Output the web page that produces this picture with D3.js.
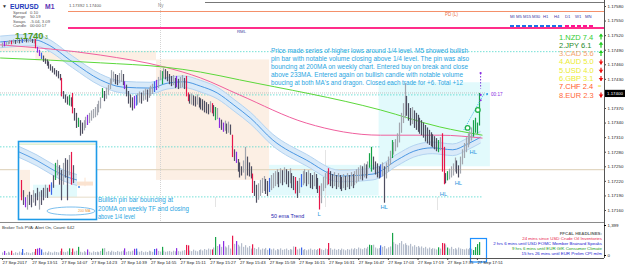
<!DOCTYPE html>
<html>
<head>
<meta charset="utf-8">
<script src="https://d3js.org/d3.v7.min.js"></script>
<style>
  body { margin:0; background:#fff; }
  svg { display:block; }
  text { font-family: "Liberation Sans", Arial, sans-serif; }
</style>
</head>
<body>
<script>
// ---- data (prices in pipettes above 1.17000) ----
const barHi = [505,508,506,508,510,509,511,510,512,511, 513,512,514,512,513,514,512,513,512,496,
  490,484,478,472,470,466,460,456,452,448, 446,440,432,405,398,394,397,392,401,370,
  360,350,345,340,345,352,356,360,365,368, 372,378,385,392,411,405,412,418,430,448,
  445,440,438,442,448,440,425,418,405,398, 392,395,397,400,404,402,406,410,408,412,
  416,420,425,428,434,448,446,452,450,446, 440,436,438,432,436,430,434,438,432,436,
  402,398,400,396,394,398,392,390,388,385, 382,378,384,380,376,372,370,350,346,340,
  344,338,342,336,315,285,280,265,258,250, 262,290,270,258,250,235,220,212,215,222,
  226,230,224,220,226,232,236,240,244,238, 246,242,248,244,240,246,236,230,228,220,
  226,234,240,244,238,242,236,232,238,234, 226,210,215,228,236,240,246,240,234,238,
  232,236,232,228,234,230,236,232,238,234, 240,244,248,252,250,256,254,260,277,290,
  270,260,256,250,254,258,250,258,270,282, 304,300,306,318,340,360,380,421,395,380,
  370,372,365,360,356,350,345,340,335,330, 325,320,316,312,308,304,310,318,290,236,
  240,245,250,256,268,262,252,270,285,298, 310,318,322,330,345,350,340,401];
const barLo = [496,498,500,502,503,502,504,503,505,504, 506,505,507,506,506,507,505,504,494,485,
  478,472,466,462,458,452,448,444,440,436, 432,428,395,390,382,378,376,374,360,345,
  330,332,314,318,325,330,336,340,345,350, 352,356,362,370,392,385,390,398,410,420,
  425,420,418,422,425,418,410,395,380,372, 366,370,376,378,382,380,386,388,384,392,
  396,400,404,408,412,428,420,432,430,426, 420,416,418,412,414,410,412,414,410,395,
  385,380,378,376,374,378,372,368,366,362, 360,358,362,360,354,346,348,330,326,322,
  324,318,320,316,270,262,258,240,228,232, 238,224,232,230,226,196,190,176,182,190,
  196,200,194,190,198,202,206,210,214,208, 216,212,218,214,208,216,206,202,195,186,
  196,208,212,216,210,214,206,204,210,204, 196,162,175,200,206,212,214,210,206,210,
  204,208,204,200,206,202,208,204,210,206, 212,216,220,224,222,228,226,232,248,240,
  244,234,228,226,228,230,176,226,240,254, 268,275,282,290,300,320,340,350,355,345,
  335,338,330,326,322,318,315,310,302,298, 295,292,290,286,282,280,284,240,214,216,
  222,224,228,232,240,236,228,236,255,268, 280,290,296,304,312,320,318,335];
const volumes = [120,190,90,150,110,200,80,130,100,160, 120,280,90,140,110,80,130,150,280,300,
  330,260,120,150,100,170,130,110,160,140, 120,180,300,150,130,170,310,140,300,160,
  200,380,150,120,180,130,260,150,110,170, 140,160,130,190,300,320,150,180,130,200,
  160,140,190,150,170,210,310,150,180,160, 200,290,300,170,150,190,130,160,140,200,
  170,150,280,300,190,160,380,200,150,170, 190,150,200,170,320,180,160,200,230,470,
  450,210,180,250,200,170,230,260,210,280, 240,300,260,260,350,840,420,500,380,650,
  400,350,460,300,900,520,650,480,400,550, 380,460,350,420,300,500,330,280,360,250,
  300,270,330,240,310,260,300,220,280,250, 310,240,270,300,230,280,250,400,380,260,
  300,350,240,280,220,260,300,240,270,230, 280,310,260,230,300,270,560,320,250,290,
  240,280,230,300,260,220,280,250,300,260, 320,280,350,300,270,330,300,380,480,460,
  480,350,300,330,450,380,420,300,360,400, 1030,600,520,480,560,650,500,550,470,440,
  520,400,460,380,420,350,400,330,380,300, 350,280,320,300,260,360,300,560,540,480,
  350,300,380,280,320,260,350,300,280,260, 300,270,330,290,230,370,510,600];
// PVA coloured bars: [bar, code]  r=climax bear, G=climax bull, p/b=rising volume
const pvaMarks = [[1,'p'],[5,'r'],[11,'b'],[18,'r'],[19,'p'],[20,'p'],[21,'b'],[32,'r'],[36,'G'],[38,'r'],
  [41,'G'],[46,'p'],[54,'G'],[66,'p'],[71,'p'],[72,'b'],[82,'b'],[83,'p'],[86,'G'],[94,'p'],[99,'r'],
  [100,'r'],[113,'r'],[115,'G'],[117,'p'],[119,'p'],[124,'r'],[126,'p'],[135,'r'],[144,'b'],[158,'r'],
  [161,'b'],[171,'r'],[176,'r'],[198,'G'],[199,'G'],[204,'b'],[210,'G'],[235,'G'],[237,'r'],[238,'r'],
  [240,'G'],[254,'G'],[255,'G'],[256,'G'],[257,'G']];

// moving averages: [bar, pipettes]
const ma233 = [[-1,500],[53,479],[88,454],[107,432],[128,397],[164,339],[204,314],[236,314],[259,308]];
const ma200 = [[-1,473],[53,463],[88,454],[107,444],[128,428],[204,366],[236,331],[259,314]];
const dragon = [[-1,506],[18,510],[24,502],[38,465],[53,428],[65,413],[80,411],[89,421],[98,424],[107,415],
  [116,401],[125,376],[134,349],[146,304],[164,263],[182,230],[200,234],[213,263],[222,281],[232,288],
  [243,284],[251,296],[258,310]];

const priceTicks = [1.17580,1.17550,1.17520,1.17490,1.17460,1.17430,1.17370,1.17340,1.17310,1.17280,1.17250,1.17220,1.17190,1.17160];
const timeTicks = [0,16,32,48,64,80,96,112,128,144,160,176,192,208,224,240,256];
const timeLabels = ["27 Sep 2017","27 Sep 13:51","27 Sep 14:07","27 Sep 14:23","27 Sep 14:39","27 Sep 14:55",
  "27 Sep 15:11","27 Sep 15:27","27 Sep 15:43","27 Sep 15:59","27 Sep 16:15","27 Sep 16:31","27 Sep 16:47",
  "27 Sep 17:03","27 Sep 17:19","27 Sep 17:35","27 Sep 17:51"];

const strength = [["1.NZD 7.4","#33cc33","up"],["2.JPY 6.1","#1f8a1f","up"],["3.CAD 5.6","#f4a46a","up"],
  ["4.AUD 5.0","#ecec30","down"],["5.USD 4.0","#ecec30","down"],["6.GBP 3.1","#ecec30","down"],
  ["7.CHF 2.4","#ff5a28","flat"],["8.EUR 2.3","#ff6a3a","down"]];
const timeframes = ["MI","M5","M15","M30","H1","H4","D1","W1","MN"];
const note = ["Price made series of higher lows around 1/4 level. M5 showed bullish",
  "pin bar with notable volume closing above 1/4 level. The pin was also",
  "bouncing at 200MA on weekly chart. Entered buy on break and close",
  "above 233MA. Entered again on bullish candle with notable volume",
  "boucing at both MA's and dragon. Closed each trade for +6. Total +12"];
const insetNote = ["Bullish pin bar bouncing at","200MA on weekly TF and closing","above 1/4 level"];
const swingLabels = [[171,"L",158],[206,"HL",172],[238,"HL",200],[246,"HL",222],[254,"HL",286]];
const headlines = [["FFCAL HEADLINES:","#666"],["24 mins since USD Crude Oil Inventories","#e8174a"],
  ["2 hrs 6 mins until USD FOMC Member Brainard Speaks","#1a1ad0"],
  ["9 hrs 6 mins until EUR GfK Consumer Climate","#199a19"],
  ["15 hrs 26 mins until EUR Prelim CPI m/m","#1a1ad0"]];

// inset (M5 snapshot), unitless price 0..100
const inHi = [50,37,28,31,35,31,37,33,40,35,37,40,44,40,44,47,56,72,76,69,63,72,78,76,82,86,69];
const inLo = [24,18,15,12,18,15,21,17,24,12,18,24,27,27,35,31,40,50,56,44,24,44,53,24,56,44,46];
const inMarks = [[0,'r'],[2,'p'],[14,'r'],[15,'b'],[17,'G'],[25,'r']];
const inDragon = [[-1,86],[8,75],[16,63],[22,55],[28,50]];

// ---- scales ----
const W = 625, H = 266;
const px = v => 1.17 + v / 1e5;
const x = d3.scaleLinear().domain([0, 256]).range([2, 476.9]);
const y = d3.scaleLinear().domain([1.17160, 1.17580]).range([210, 6]);
const yv = d3.scaleLinear().domain([0, 1399]).range([255, 225]);
const pva = {r:"#e8174a", G:"#17a347", p:"#8a2be2", b:"#3a66e8"};
const markOf = new Map(pvaMarks);

const svg = d3.select("body").append("svg").attr("width", W).attr("height", H);
svg.append("rect").attr("width", W).attr("height", H).attr("fill", "#fff");

// session boxes
const sess = svg.append("g");
[[-2,18,505,485],[18,83,488,468],[83,144,470,222],[144,203,253,190],[203,263,423,250]].forEach((s, k) => {
  sess.append("rect").attr("x", x(s[0])).attr("width", x(s[1]) - x(s[0]))
    .attr("y", y(px(s[2]))).attr("height", y(px(s[3])) - y(px(s[2])))
    .attr("fill", k < 3 ? "#fcefe4" : "#e2fafc");
});

// levels
const lv = svg.append("g").attr("fill", "none");
lv.append("line").attr("x1", 0).attr("x2", 604).attr("y1", y(px(243))).attr("y2", y(px(243)))
  .attr("stroke", "#e2d7c2").attr("stroke-width", 1.2);
[[486, 0, 604], [397, 0, 488], [290, 0, 380], [187, 0, 482]].forEach(l => {
  lv.append("line").attr("x1", l[1]).attr("x2", l[2]).attr("y1", y(px(l[0]))).attr("y2", y(px(l[0])))
    .attr("stroke", "#4fd8cc").attr("stroke-dasharray", "1.5,1.5").attr("stroke-width", 0.8);
});
lv.append("line").attr("x1", 0).attr("x2", 486).attr("y1", y(px(401))).attr("y2", y(px(401)))
  .attr("stroke", "#b8b8b8").attr("stroke-dasharray", "1,1").attr("stroke-width", 0.8);
lv.append("line").attr("x1", 160.5).attr("x2", 160.5).attr("y1", 0).attr("y2", 222)
  .attr("stroke", "#d4d4d4").attr("stroke-dasharray", "1,1");
[[215, 197, 207], [325, 150, 207], [437, 197, 210]].forEach(v => {
  lv.append("line").attr("x1", v[0] + .5).attr("x2", v[0] + .5).attr("y1", v[1]).attr("y2", v[2]).attr("stroke", "#e4e4e4");
});

// dragon band
const band = d3.area().curve(d3.curveMonotoneX).x(d => x(d[0]))
  .y0(d => y(px(d[1] - 12))).y1(d => y(px(d[1] + 12)));
const lineOff = o => d3.line().curve(d3.curveMonotoneX).x(d => x(d[0])).y(d => y(px(d[1] + o)));
svg.append("path").datum(dragon).attr("d", band).attr("fill", "#d9eaf9");
[-12, 12].forEach(o => svg.append("path").datum(dragon).attr("d", lineOff(o))
  .attr("fill", "none").attr("stroke", "#b3d3f1").attr("stroke-width", 1));
svg.append("path").datum(dragon).attr("d", lineOff(0)).attr("fill", "none")
  .attr("stroke", "#3b8de0").attr("stroke-width", 0.9);

svg.append("path").datum(ma233).attr("d", lineOff(0)).attr("fill", "none").attr("stroke", "#f0609e").attr("stroke-width", 1);
svg.append("path").datum(ma200).attr("d", lineOff(0)).attr("fill", "none").attr("stroke", "#5cd83a").attr("stroke-width", 1);

// bars
const barColor = i => {
  if (markOf.has(i)) return pva[markOf.get(i)];
  if (i === 0) return "#9ea2aa";
  return (barHi[i] + barLo[i]) >= (barHi[i - 1] + barLo[i - 1]) ? "#a2a6ae" : "#4e4e60";
};
svg.append("g").selectAll("line").data(barHi).join("line")
  .attr("x1", (d, i) => Math.round(x(i)) + .5).attr("x2", (d, i) => Math.round(x(i)) + .5)
  .attr("y1", d => y(px(d))).attr("y2", (d, i) => y(px(barLo[i])) + 0.5)
  .attr("stroke", (d, i) => barColor(i)).attr("stroke-width", 1.2);

// trade marks near last bar
const tr = svg.append("g");
tr.append("line").attr("x1", x(249)).attr("y1", y(px(325))).attr("x2", x(260)).attr("y2", y(px(401)))
  .attr("stroke", "#38b8e8").attr("stroke-dasharray", "1,1.2");
[[251,329],[256.5,366]].forEach(c => tr.append("circle").attr("cx", x(c[0])).attr("cy", y(px(c[1])))
  .attr("r", 2.3).attr("fill", "#fff").attr("stroke", "#22b34a").attr("stroke-width", 1.3));
tr.append("line").attr("x1", x(258)).attr("x2", x(258)).attr("y1", y(px(442))).attr("y2", y(px(410)))
  .attr("stroke", "#7a3ad8").attr("stroke-dasharray", "1.5,1.5");
[[258,442],[258,386],[258,397]].forEach(c => tr.append("circle").attr("cx", x(c[0])).attr("cy", y(px(c[1])))
  .attr("r", 1.1).attr("fill", "#8a2be2"));
tr.append("circle").attr("cx", x(261.5)).attr("cy", y(px(399))).attr("r", 1).attr("fill", "#2a9ae8");
tr.append("text").attr("x", 491).attr("y", 96).attr("font-size", 4.6).attr("fill", "#8a2be2").text("00:17");

// swing labels
svg.append("g").selectAll("text").data(swingLabels).join("text")
  .attr("x", d => x(d[0])).attr("y", d => y(px(d[2])) + 5).attr("text-anchor", "middle")
  .attr("font-size", 5.8).attr("fill", "#2f94dc").text(d => d[1]);
svg.append("text").attr("x", 271).attr("y", 218).attr("font-size", 5.4).attr("fill", "#2828b0").text("50 ema Trend");

// note
const noteW = [197, 198, 197, 192, 192];
svg.append("g").selectAll("text").data(note).join("text")
  .attr("x", 271).attr("y", (d, i) => 53 + i * 8.1).attr("font-size", 6.6).attr("fill", "#2aa6e2")
  .attr("textLength", (d, i) => noteW[i]).attr("lengthAdjust", "spacingAndGlyphs").text(d => d);

// inset
const ix = d3.scaleLinear().domain([0, 26]).range([21, 73]);
const iy = d3.scaleLinear().domain([0, 100]).range([219, 141]);
const ins = svg.append("g");
ins.append("rect").attr("x", 18.5).attr("y", 141.5).attr("width", 78).attr("height", 78).attr("fill", "#fff");
ins.append("rect").attr("x", ix(-0.5)).attr("width", ix(4.5) - ix(-0.5)).attr("y", iy(63)).attr("height", iy(28) - iy(63)).attr("fill", "#fcefe4");
ins.append("rect").attr("x", ix(6)).attr("width", ix(28) - ix(6)).attr("y", iy(44)).attr("height", iy(28) - iy(44)).attr("fill", "#e2fafc");
ins.append("line").attr("x1", 19).attr("x2", 96).attr("y1", iy(96)).attr("y2", iy(96)).attr("stroke", "#cfe6b8");
ins.append("line").attr("x1", ix(13)).attr("x2", 96).attr("y1", iy(28)).attr("y2", iy(28)).attr("stroke", "#e6dcc8");
const iband = d3.area().curve(d3.curveMonotoneX).x(d => ix(d[0])).y0(d => iy(d[1] - 7)).y1(d => iy(d[1] + 7));
const iline = o => d3.line().curve(d3.curveMonotoneX).x(d => ix(d[0])).y(d => iy(d[1] + o));
ins.append("path").datum(inDragon).attr("d", iband).attr("fill", "#d9eaf9");
[-7, 7].forEach(o => ins.append("path").datum(inDragon).attr("d", iline(o)).attr("fill", "none").attr("stroke", "#b3d3f1"));
ins.append("path").datum(inDragon).attr("d", iline(0)).attr("fill", "none").attr("stroke", "#3b8de0").attr("stroke-width", 0.8);
ins.append("rect").attr("x", ix(28)).attr("width", ix(36) - ix(28)).attr("y", iy(48)).attr("height", 4).attr("fill", "#fbe3d0");
ins.append("line").attr("x1", ix(32)).attr("x2", ix(32)).attr("y1", iy(53)).attr("y2", iy(42)).attr("stroke", "#fbe3d0");
ins.append("circle").attr("cx", ix(29)).attr("cy", iy(41)).attr("r", 0.9).attr("fill", "#2a7ae8");
const inMark = new Map(inMarks);
ins.selectAll("line.ib").data(inHi).join("line").attr("class", "ib")
  .attr("x1", (d, i) => Math.round(ix(i)) + .5).attr("x2", (d, i) => Math.round(ix(i)) + .5)
  .attr("y1", d => iy(d)).attr("y2", (d, i) => iy(inLo[i]))
  .attr("stroke", (d, i) => inMark.has(i) ? pva[inMark.get(i)] : (i % 3 ? "#55556a" : "#a0a4ac")).attr("stroke-width", 1.2);
ins.append("ellipse").attr("cx", 71).attr("cy", 211).attr("rx", 24).attr("ry", 4).attr("fill", "none").attr("stroke", "#5aaee8").attr("stroke-width", 0.8);
ins.append("text").attr("x", 78).attr("y", 212).attr("font-size", 3.6).attr("fill", "#f0a040").text("200 MA");
ins.append("rect").attr("x", 18.5).attr("y", 141.5).attr("width", 78).attr("height", 78).attr("fill", "none")
  .attr("stroke", "#1e9be8").attr("stroke-width", 1.6);
const inW = [75, 91, 37];
svg.append("g").selectAll("text").data(insetNote).join("text")
  .attr("x", 98).attr("y", (d, i) => 202 + i * 8.6).attr("font-size", 6.6).attr("fill", "#2aa6e2")
  .attr("textLength", (d, i) => inW[i]).attr("lengthAdjust", "spacingAndGlyphs").text(d => d);

// header decorations
const hdr = svg.append("g");
hdr.append("line").attr("x1", 205).attr("x2", 604).attr("y1", 2.5).attr("y2", 2.5).attr("stroke", "#777");
hdr.append("line").attr("x1", 68).attr("x2", 604).attr("y1", 11.5).attr("y2", 11.5).attr("stroke", "#f4906a");
hdr.append("line").attr("x1", 68).attr("x2", 604).attr("y1", 28).attr("y2", 28).attr("stroke", "#ff2d8a").attr("stroke-width", 1.8);
hdr.append("line").attr("x1", 510).attr("x2", 564).attr("y1", 26).attr("y2", 26).attr("stroke", "#1e6fe8").attr("stroke-width", 1.8).attr("stroke-dasharray", "4,2");
hdr.append("line").attr("x1", 565).attr("x2", 593).attr("y1", 26).attr("y2", 26).attr("stroke", "#ff1493").attr("stroke-width", 1.8).attr("stroke-dasharray", "4,2");
const tfX = [510, 516, 523, 532, 543, 554, 565, 575, 585];
hdr.selectAll("text.tf").data(timeframes).join("text").attr("class", "tf")
  .attr("x", (d, i) => tfX[i]).attr("y", 18).attr("font-size", 4.2).attr("fill", "#3a3aa8").text(d => d);
hdr.append("text").attr("x", 445).attr("y", 16).attr("font-size", 4.5).attr("fill", "#e8704a").text("PD (L)");
hdr.append("text").attr("x", 237).attr("y", 33).attr("font-size", 4.3).attr("fill", "#4040a0").text("RML");
hdr.append("text").attr("x", 158).attr("y", 6.5).attr("font-size", 4.5).attr("fill", "#888").text("Ny");
hdr.append("text").attr("x", 69).attr("y", 6.5).attr("font-size", 4.3).attr("fill", "#555").text("1.17392 1.17400");
hdr.append("text").attr("x", 2).attr("y", 8).attr("font-size", 5).attr("fill", "#333").text("▼");
hdr.append("text").attr("x", 10).attr("y", 9).attr("font-size", 6.8).attr("font-weight", "bold").attr("fill", "#1c39bb").text("EURUSD");
hdr.append("text").attr("x", 45).attr("y", 9).attr("font-size", 6.8).attr("font-weight", "bold").attr("fill", "#5c35b5").text("M1");
const info = [["Spread","0.10"],["Range","50.19"],["Swaps","-5.04, 3.09"],["Candle","00:00:17"]];
info.forEach((r, i) => {
  hdr.append("text").attr("x", 13).attr("y", 13.5 + i * 4.6).attr("font-size", 4.2).attr("fill", "#555").text(r[0]);
  hdr.append("text").attr("x", 30).attr("y", 13.5 + i * 4.6).attr("font-size", 4.2).attr("fill", "#555").text(r[1]);
});
hdr.append("text").attr("x", 15).attr("y", 38.5).attr("font-size", 9.3).attr("font-weight", "bold").attr("fill", "#4f9a1c").text("1.1740");
hdr.append("text").attr("x", 45).attr("y", 38.5).attr("font-size", 5).attr("fill", "#4f9a1c").text("3");

// currency strength
const cs = svg.append("g");
strength.forEach((s, i) => {
  const yy = 39.5 + i * 8.3;
  cs.append("text").attr("x", 559).attr("y", yy).attr("font-size", 7.5).attr("fill", s[1]).text(s[0]);
  if (s[2] === "flat") {
    cs.append("text").attr("x", 598).attr("y", yy - 1).attr("font-size", 6).attr("fill", "#e8d800").text("≈");
  } else {
    const up = s[2] === "up", cx = 601, y0 = yy - 6, y1 = yy;
    const c = up ? "#22cc22" : "#ee1111";
    cs.append("line").attr("x1", cx).attr("x2", cx).attr("y1", y0 + 1).attr("y2", y1).attr("stroke", c).attr("stroke-width", 1.2);
    cs.append("path").attr("fill", c).attr("d", up
      ? `M${cx - 2.3},${y0 + 3}L${cx},${y0}L${cx + 2.3},${y0 + 3}Z`
      : `M${cx - 2.3},${y1 - 3}L${cx},${y1}L${cx + 2.3},${y1 - 3}Z`);
  }
});

// price axis
const pa = svg.append("g").attr("transform", "translate(604,0)")
  .call(d3.axisRight(y).tickValues(priceTicks).tickSize(2).tickPadding(1.5).tickFormat(d3.format(".5f")));
pa.select(".domain").remove();
pa.selectAll("text").attr("font-size", 4.4).attr("fill", "#222").style("font-family", "Liberation Sans, Arial");
pa.selectAll("line").attr("stroke", "#444");
svg.append("line").attr("x1", 604.5).attr("x2", 604.5).attr("y1", 0).attr("y2", 258).attr("stroke", "#555");
svg.append("rect").attr("x", 605).attr("y", y(1.174) - 3.6).attr("width", 20).attr("height", 7.2).attr("fill", "#000");
svg.append("text").attr("x", 607).attr("y", y(1.174) + 1.6).attr("font-size", 4.4).attr("fill", "#fff").text("1.17400");

// volume panel
svg.append("line").attr("x1", 0).attr("x2", 604).attr("y1", 222.5).attr("y2", 222.5).attr("stroke", "#8a8a8a");
svg.append("text").attr("x", 2).attr("y", 228.5).attr("font-size", 4.3).attr("fill", "#333").text("Broker Tick PVA:  Alert On,  Count: 642");
svg.append("g").selectAll("rect").data(volumes).join("rect")
  .attr("x", (d, i) => Math.round(x(i))).attr("width", 1.2)
  .attr("y", d => yv(d)).attr("height", d => yv(0) - yv(d))
  .attr("fill", (d, i) => markOf.has(i) ? pva[markOf.get(i)] : "#b4bccb");
const va = svg.append("g").attr("transform", "translate(604,0)")
  .call(d3.axisRight(yv).tickValues([0, 1399]).tickSize(2).tickPadding(1.5));
va.select(".domain").remove();
va.selectAll("text").attr("font-size", 4.4).attr("fill", "#222").style("font-family", "Liberation Sans, Arial");
headlines.forEach((h, i) => svg.append("text").attr("x", 602).attr("y", 235 + i * 5).attr("text-anchor", "end")
  .attr("font-size", 4.4).attr("font-weight", i === 0 ? "bold" : "normal").attr("fill", h[1]).text(h[0]));
svg.append("rect").attr("x", 470.5).attr("y", 238.5).attr("width", 16).attr("height", 23.5)
  .attr("fill", "none").attr("stroke", "#1e90ff").attr("stroke-width", 1.2);

// time axis
svg.append("line").attr("x1", 0).attr("x2", 604).attr("y1", 258.5).attr("y2", 258.5).attr("stroke", "#555");
const ta = svg.append("g").attr("transform", "translate(0,258)")
  .call(d3.axisBottom(x).tickValues(timeTicks).tickSize(2).tickPadding(1).tickFormat((d, i) => timeLabels[i]));
ta.select(".domain").remove();
ta.selectAll("text").attr("text-anchor", "start").attr("font-size", 4.3).attr("fill", "#222").style("font-family", "Liberation Sans, Arial");
ta.selectAll("line").attr("stroke", "#444");
</script>
</body>
</html>
